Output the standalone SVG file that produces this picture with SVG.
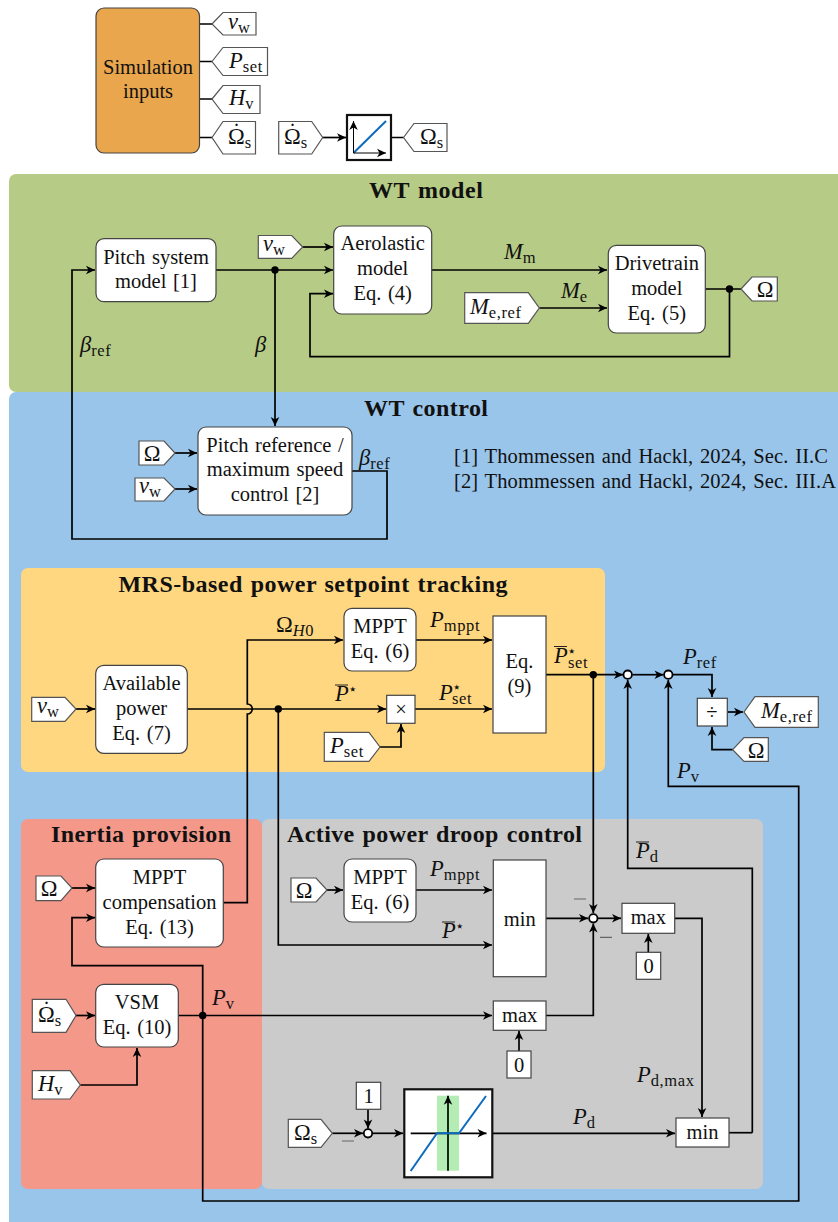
<svg xmlns="http://www.w3.org/2000/svg" width="838" height="1222" viewBox="0 0 838 1222">
<defs>
<marker id="a" markerUnits="userSpaceOnUse" markerWidth="12" markerHeight="12" refX="10" refY="6" orient="auto"><path d="M1,1.7 L10,6 L1,10.3 L3.5,6 Z" fill="#000"/></marker>
</defs>
<style>
text{font-family:"Liberation Serif","Times New Roman",serif;fill:#111;font-size:20.5px;word-spacing:1.5px}
.c{text-anchor:middle}
.b{font-weight:bold;font-size:24px}
.m{font-size:22.5px}
.i{font-style:italic}
.s{font-size:16.5px;letter-spacing:.6px}
.st{font-size:15px}
.box{fill:#fff;stroke:#444;stroke-width:1.2}
.tag{fill:#fff;stroke:#555;stroke-width:1.2}
.blk{fill:#fff;stroke:#111;stroke-width:2.2}
.w{fill:none;stroke:#000;stroke-width:1.7}
.r{marker-end:url(#a)}
.dot{fill:#000}
.sum{fill:#fff;stroke:#000;stroke-width:1.8}
.bar{stroke:#222;stroke-width:1}
.neg{stroke:#666;stroke-width:1.2}
.thin{fill:none;stroke:#000;stroke-width:1;marker-end:url(#a)}
.crv{fill:none;stroke:#0d6bbf;stroke-width:2}
</style>
<g id="regions">
<rect x="9" y="174" width="840" height="218" rx="7" fill="#b6cb85"/>
<rect x="9" y="392" width="840" height="840" rx="7" fill="#99c5ea"/>
<rect x="21" y="568" width="584" height="204" rx="7" fill="#ffd780"/>
<rect x="21" y="819" width="241" height="370" rx="7" fill="#f4988a"/>
<rect x="262" y="819" width="501" height="370" rx="7" fill="#cbcbcb"/>
<text class="b c" x="426" y="198" textLength="114">WT model</text>
<text class="b c" x="426" y="416" textLength="124">WT control</text>
<text class="b c" x="313" y="592" textLength="389">MRS-based power setpoint tracking</text>
<text class="b c" x="141" y="842" textLength="180">Inertia provision</text>
<text class="b" x="287" y="842" textLength="295">Active power droop control</text>
</g>
<g id="connectors">
<path class="w" d="M199.5,24H212M199.5,61.5H212M199.5,99H212M199.5,137.5H212M391,137.5H403.5"/>
<path class="w r" d="M322.7,137.5H346"/>
<path class="w r" d="M216,270H333"/>
<path class="w r" d="M275,270V426"/>
<path class="w r" d="M302.7,247H333"/>
<path class="w r" d="M432,270H607"/>
<path class="w r" d="M539.3,308H607"/>
<path class="w" d="M705.3,289H741"/>
<path class="w r" d="M729.5,289V356.7H310V293.7H333"/>
<path class="w r" d="M175,453H197"/>
<path class="w r" d="M175,489H197"/>
<path class="w r" d="M352,471H387V539H72V270H95"/>
<path class="w r" d="M76,709H95"/>
<path class="w r" d="M187.3,709H386"/>
<path class="w r" d="M278.3,709V945H492"/>
<path class="w r" d="M223.3,902.7H247.3V714A5,5 0 0 0 247.3,704V640H343"/>
<path class="w r" d="M380,747H401V724"/>
<path class="w r" d="M416,640H492"/>
<path class="w r" d="M415,709H492"/>
<path class="w r" d="M546,674.7H623"/>
<path class="w r" d="M632.5,674.7H663.5"/>
<path class="w r" d="M673,674.7H712V697"/>
<path class="w r" d="M727.3,712H743"/>
<path class="w r" d="M732.7,749.7H712V727"/>
<path class="w r" d="M593.3,674.7V913"/>
<path class="w r" d="M752.3,1132.7V868.3H627.7V680"/>
<path class="w r" d="M202.7,1015.5V1201H798.7V786.3H668.3V680"/>
<path class="w r" d="M72,888H95"/>
<path class="w r" d="M202.7,1015.5V965.7H72V917.7H95"/>
<path class="w r" d="M76,1015.5H95"/>
<path class="w r" d="M80.3,1085H137V1048"/>
<path class="w r" d="M178.3,1015.5H492"/>
<path class="w r" d="M327,890H343"/>
<path class="w r" d="M416,890H492"/>
<path class="w r" d="M546,918.3H588"/>
<path class="w r" d="M598,918.3H621"/>
<path class="w r" d="M546,1015.5H593.3V923.5"/>
<path class="w r" d="M648.3,952.3V934"/>
<path class="w r" d="M519,1051V1031"/>
<path class="w r" d="M674.7,918.3H702V1117"/>
<path class="w r" d="M368,1109.3V1128.5"/>
<path class="w r" d="M332.3,1133.3H363"/>
<path class="w r" d="M373,1133.3H403"/>
<path class="w r" d="M492.3,1133.3H675"/>
<path class="w" d="M729,1132.7H752.3"/>
<circle class="dot" cx="275" cy="270" r="3.7"/>
<circle class="dot" cx="729.5" cy="289" r="3.7"/>
<circle class="dot" cx="278.3" cy="709" r="3.7"/>
<circle class="dot" cx="593.3" cy="674.7" r="3.7"/>
<circle class="dot" cx="202.7" cy="1015.5" r="3.7"/>
<circle class="sum" cx="627.7" cy="674.7" r="4.2"/>
<circle class="sum" cx="668.3" cy="674.7" r="4.2"/>
<circle class="sum" cx="593.3" cy="918.3" r="4.2"/>
<circle class="sum" cx="368" cy="1133.3" r="4.2"/>
<path class="neg" d="M574,899H586M600,937.3H612M342,1141H354"/>
</g>
<g id="sim-inputs"><rect x="96" y="8" width="103.5" height="145" rx="8" fill="#eaa64d" stroke="#444" stroke-width="1.2"/><text class="c" x="148" y="73.5">Simulation</text><text class="c" x="148" y="98">inputs</text></g>
<g id="tag-vw1"><path class="tag" d="M212,24L223,12.5H256V35H223Z"/><text class="m" x="228" y="29"><tspan class="i">v</tspan><tspan class="s" dy="4">w</tspan></text></g>
<g id="tag-pset1"><path class="tag" d="M212,61.5L223,47.5H267.5V75.5H223Z"/><text class="m" x="229" y="68"><tspan class="i">P</tspan><tspan class="s" dy="4">set</tspan></text></g>
<g id="tag-hv1"><path class="tag" d="M212,99L223,85.5H260V113.5H223Z"/><text class="m" x="229" y="105"><tspan class="i">H</tspan><tspan class="s" dy="4">v</tspan></text></g>
<g id="tag-omdot1"><path class="tag" d="M212,137.5L223,121.5H255.5V154H223Z"/><text class="m" x="228" y="144">Ω<tspan class="s" dy="4">s</tspan></text><text class="m c" x="236.5" y="139">˙</text></g>
<g id="tag-omdot2"><path class="tag" d="M278.7,121.5H311.7L322.7,137.5L311.7,154H278.7Z"/><text class="m" x="284" y="144">Ω<tspan class="s" dy="4">s</tspan></text><text class="m c" x="292.5" y="139">˙</text></g>
<g id="integrator"><rect class="blk" x="347" y="115" width="44" height="45"/><path class="crv" d="M353.5,153L386,121"/><path class="thin" d="M353.5,153V121"/><path class="thin" d="M353.5,153H386"/></g>
<g id="tag-oms1"><path class="tag" d="M403.5,137.5L414,123.5H447V151.5H414Z"/><text class="m" x="420" y="144">Ω<tspan class="s" dy="4">s</tspan></text></g>

<g id="pitch-system"><rect class="box" x="96" y="238.7" width="120" height="63" rx="8"/><text class="c" x="156" y="263.5">Pitch system</text><text class="c" x="156" y="288">model [1]</text></g>
<g id="aerolastic"><rect class="box" x="333.7" y="226" width="98" height="88" rx="8"/><text class="c" x="382.7" y="250">Aerolastic</text><text class="c" x="382.7" y="275.3">model</text><text class="c" x="382.7" y="300">Eq. (4)</text></g>
<g id="drivetrain"><rect class="box" x="608.3" y="245.3" width="97" height="87.7" rx="8"/><text class="c" x="656.8" y="269.5">Drivetrain</text><text class="c" x="656.8" y="294.5">model</text><text class="c" x="656.8" y="319.5">Eq. (5)</text></g>
<g id="tag-vw2"><path class="tag" d="M258.3,235.5H291.7L302.7,247L291.7,258.3H258.3Z"/><text class="m" x="263" y="251"><tspan class="i">v</tspan><tspan class="s" dy="4">w</tspan></text></g>
<g id="tag-meref"><path class="tag" d="M464.7,292.7H528.3L539.3,308L528.3,323.3H464.7Z"/><text class="m" x="470" y="314"><tspan class="i">M</tspan><tspan class="s" dy="4">e,ref</tspan></text></g>
<g id="tag-om1"><path class="tag" d="M741,289L752,277H777.3V301H752Z"/><text class="m c" x="765" y="296.5">Ω</text></g>

<g id="pitch-ref"><rect class="box" x="198" y="427" width="154" height="88" rx="8"/><text class="c" x="275" y="451.5">Pitch reference /</text><text class="c" x="275" y="476">maximum speed</text><text class="c" x="275" y="500.5">control [2]</text></g>
<g id="tag-om2"><path class="tag" d="M139,441H164L175,453L164,465H139Z"/><text class="m c" x="152" y="460.5">Ω</text></g>
<g id="tag-vw3"><path class="tag" d="M135,478H164L175,489L164,501H135Z"/><text class="m" x="139" y="493"><tspan class="i">v</tspan><tspan class="s" dy="4">w</tspan></text></g>
<g id="refs"><text x="454" y="463" textLength="374">[1] Thommessen and Hackl, 2024, Sec. II.C</text><text x="454" y="488" textLength="382">[2] Thommessen and Hackl, 2024, Sec. III.A</text></g>

<g id="available"><rect class="box" x="95.7" y="665.3" width="91.6" height="88" rx="8"/><text class="c" x="141.5" y="689.5">Available</text><text class="c" x="141.5" y="714.5">power</text><text class="c" x="141.5" y="739.5">Eq. (7)</text></g>
<g id="tag-vw4"><path class="tag" d="M31.7,697.3H65L76,709L65,721.3H31.7Z"/><text class="m" x="37" y="713"><tspan class="i">v</tspan><tspan class="s" dy="4">w</tspan></text></g>
<g id="mppt1"><rect class="box" x="344" y="608.3" width="72" height="62.7" rx="8"/><text class="c" x="380" y="632.5">MPPT</text><text class="c" x="380" y="657.5">Eq. (6)</text></g>
<g id="mult"><rect class="box" x="386.7" y="695.3" width="28.3" height="28"/><text class="c" x="401" y="716">×</text></g>
<g id="tag-pset2"><path class="tag" d="M324.3,732.3H369L380,747L369,761.3H324.3Z"/><text class="m" x="330" y="753"><tspan class="i">P</tspan><tspan class="s" dy="4">set</tspan></text></g>
<g id="eq9"><rect class="box" x="493" y="616" width="53" height="117"/><text class="c" x="519.5" y="668">Eq.</text><text class="c" x="519.5" y="693">(9)</text></g>
<g id="div"><rect class="box" x="697.3" y="698.3" width="30" height="27.7"/><text class="c" x="712" y="719">÷</text></g>
<g id="tag-meref2"><path class="tag" d="M744,712L755,696.7H818.3V727.3H755Z"/><text class="m" x="761" y="718"><tspan class="i">M</tspan><tspan class="s" dy="4">e,ref</tspan></text></g>
<g id="tag-om3"><path class="tag" d="M732.7,749.7L744,737.7H768.3V761.3H744Z"/><text class="m c" x="756" y="757.5">Ω</text></g>

<g id="mppt-comp"><rect class="box" x="95.7" y="859" width="127.6" height="88" rx="8"/><text class="c" x="159.5" y="883.5">MPPT</text><text class="c" x="159.5" y="908.5">compensation</text><text class="c" x="159.5" y="933.5">Eq. (13)</text></g>
<g id="tag-om4"><path class="tag" d="M36,876H61L72,888L61,900.7H36Z"/><text class="m c" x="49" y="895.5">Ω</text></g>
<g id="vsm"><rect class="box" x="95.7" y="984.3" width="82.6" height="62.7" rx="8"/><text class="c" x="137" y="1008.5">VSM</text><text class="c" x="137" y="1033.5">Eq. (10)</text></g>
<g id="tag-omdot3"><path class="tag" d="M32.3,999.3H66L76,1015.5L66,1032.3H32.3Z"/><text class="m" x="38" y="1022">Ω<tspan class="s" dy="4">s</tspan></text><text class="m c" x="46.5" y="1017">˙</text></g>
<g id="tag-hv2"><path class="tag" d="M32.3,1070.7H70L80.3,1085L70,1099H32.3Z"/><text class="m" x="38" y="1091"><tspan class="i">H</tspan><tspan class="s" dy="4">v</tspan></text></g>

<g id="mppt2"><rect class="box" x="344" y="859" width="72" height="63" rx="8"/><text class="c" x="380" y="883.5">MPPT</text><text class="c" x="380" y="908.5">Eq. (6)</text></g>
<g id="tag-om5"><path class="tag" d="M291,878H316L327,890L316,902H291Z"/><text class="m c" x="304" y="897.5">Ω</text></g>
<g id="min1"><rect class="box" x="493.3" y="860" width="52.7" height="116.7"/><text class="c" x="519.7" y="926">min</text></g>
<g id="max1"><rect class="box" x="622" y="903.3" width="52.7" height="30"/><text class="c" x="648.3" y="924">max</text></g>
<g id="zero1"><rect class="box" x="636.3" y="952.3" width="24.4" height="27"/><text class="c" x="648.5" y="973">0</text></g>
<g id="max2"><rect class="box" x="493.3" y="1001" width="52.7" height="29.3"/><text class="c" x="519.7" y="1022">max</text></g>
<g id="zero2"><rect class="box" x="507" y="1051" width="24" height="27"/><text class="c" x="519" y="1072">0</text></g>
<g id="one"><rect class="box" x="356.3" y="1082.3" width="24.4" height="27"/><text class="c" x="368.5" y="1103">1</text></g>
<g id="tag-oms2"><path class="tag" d="M288.3,1119.3H321L332.3,1133.3L321,1147.3H288.3Z"/><text class="m" x="294" y="1140">Ω<tspan class="s" dy="4">s</tspan></text></g>
<g id="deadband"><rect class="blk" x="404.3" y="1089.3" width="88" height="88"/><rect x="437" y="1095.7" width="22" height="75" fill="#b3edb3"/><path class="w r" d="M410.7,1133.3H486.5"/><path class="w r" d="M448,1170.7V1095.7"/><path class="crv" d="M410.7,1171L437,1133.3H459L486,1096"/></g>
<g id="min2"><rect class="box" x="676" y="1118" width="53" height="29"/><text class="c" x="702.5" y="1139">min</text></g>

<g id="labels">
<text class="m" x="504" y="259"><tspan class="i">M</tspan><tspan class="s" dy="4">m</tspan></text>
<text class="m" x="561" y="298"><tspan class="i">M</tspan><tspan class="s" dy="4">e</tspan></text>
<text class="m" x="80" y="352"><tspan class="i">β</tspan><tspan class="s" dy="4">ref</tspan></text>
<text class="m i" x="255" y="352">β</text>
<text class="m" x="359" y="465"><tspan class="i">β</tspan><tspan class="s" dy="4">ref</tspan></text>
<text class="m" x="276" y="632">Ω<tspan class="i s" dy="4">H</tspan><tspan class="s">0</tspan></text>
<text class="m" x="430" y="627"><tspan class="i">P</tspan><tspan class="s" dy="4">mppt</tspan></text>
<text class="m i" x="335" y="701">P</text><text class="st" x="348" y="694">⋆</text><line class="bar" x1="335" y1="685" x2="348" y2="685"/>
<text class="m i" x="439" y="699.5">P</text><text class="st" x="452" y="692">⋆</text><text class="s" x="452" y="703.5">set</text>
<text class="m i" x="554" y="663">P</text><text class="st" x="567" y="656">⋆</text><text class="s" x="568" y="667.5">set</text><line class="bar" x1="554" y1="646.5" x2="567" y2="646.5"/>
<text class="m" x="683" y="664"><tspan class="i">P</tspan><tspan class="s" dy="4">ref</tspan></text>
<text class="m" x="677" y="778"><tspan class="i">P</tspan><tspan class="s" dy="4">v</tspan></text>
<text class="m" x="636" y="858"><tspan class="i">P</tspan><tspan class="s" dy="4">d</tspan></text><line class="bar" x1="636" y1="842" x2="649" y2="842"/>
<text class="m" x="430" y="876"><tspan class="i">P</tspan><tspan class="s" dy="4">mppt</tspan></text>
<text class="m i" x="442" y="938">P</text><text class="st" x="455" y="931">⋆</text><line class="bar" x1="442" y1="922" x2="455" y2="922"/>
<text class="m" x="212" y="1005"><tspan class="i">P</tspan><tspan class="s" dy="4">v</tspan></text>
<text class="m" x="637" y="1082"><tspan class="i">P</tspan><tspan class="s" dy="4">d,max</tspan></text>
<text class="m" x="573" y="1124"><tspan class="i">P</tspan><tspan class="s" dy="4">d</tspan></text>
</g>
</svg>
